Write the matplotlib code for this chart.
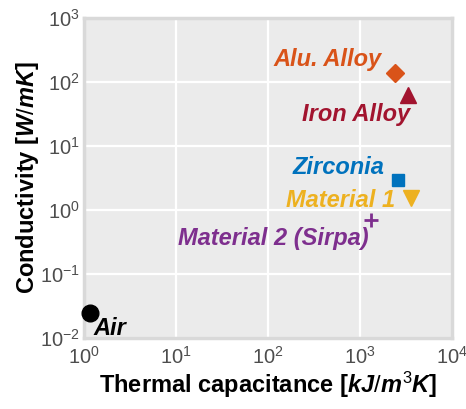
import matplotlib
matplotlib.use("Agg")
import matplotlib.pyplot as plt

plt.rcParams['font.family'] = ['Liberation Sans', 'DejaVu Sans']
plt.rcParams['mathtext.fontset'] = 'custom'
plt.rcParams['mathtext.rm'] = 'Liberation Sans'
plt.rcParams['mathtext.it'] = 'Liberation Sans:italic:bold'
plt.rcParams['mathtext.bf'] = 'Liberation Sans:bold'

# material data (thermal capacitance kJ/m3K, conductivity W/mK)
names = ['Air', 'Alu. Alloy', 'Iron Alloy', 'Zirconia', 'Material 1', 'Material 2 (Sirpa)']
capacitance = [1.17, 2420, 3300, 2600, 3550, 1320]
conductivity = [0.024, 138, 62, 2.9, 1.5, 0.69]
colors = ['black', '#D95319', '#A2142F', '#0072BD', '#EDB120', '#7E2F8E']
markers = ['o', 'D', '^', 's', 'v', '+']
msizes = [12, 9, 11, 9, 11, 10]
# label placement: (dx px, dy px, horizontal alignment)
offsets = [(3, -15, 'left'), (-14, 13, 'right'), (2, -20, 'right'),
           (-14, 13, 'right'), (-16, -2, 'right'), (-2, -18, 'right')]

fig = plt.figure(figsize=(4.66, 4.09), dpi=100)
ax = fig.add_axes([0.180, 0.174, 0.790, 0.783])
ax.set_facecolor('#EBEBEB')
ax.set_xscale('log')
ax.set_yscale('log')
ax.set_xlim(1, 1e4)
ax.set_ylim(1e-2, 1e3)
ax.grid(True, which='major', color='white', linewidth=1.6)
ax.set_axisbelow(True)
for s in ax.spines.values():
    s.set_color('#D9D9D9')
    s.set_linewidth(2.5)
ax.minorticks_off()
ax.tick_params(length=0, labelsize=14.5, labelcolor='#4D4D4D')
ax.tick_params(axis='x', pad=6)
ax.tick_params(axis='y', pad=3)

for x, y, n, c, m, ms, (dx, dy, ha) in zip(capacitance, conductivity, names, colors,
                                           markers, msizes, offsets):
    ax.plot(x, y, marker=m, color=c, markersize=ms, linestyle='none',
            markeredgewidth=2 if m == '+' else 1, clip_on=False, zorder=3)
    ax.annotate(n, (x, y), xytext=(dx, dy), textcoords='offset pixels',
                ha=ha, va='center', color=c, fontsize=17,
                fontweight='bold', fontstyle='italic')

ax.set_xlabel(r'Thermal capacitance [$kJ/m^3K$]', fontsize=17, fontweight='bold', labelpad=1)
ax.set_ylabel(r'Conductivity [$W/mK$]', fontsize=17, fontweight='bold')
ax.yaxis.set_label_coords(-0.117, 0.5)

fig.savefig('out.png', dpi=100)
